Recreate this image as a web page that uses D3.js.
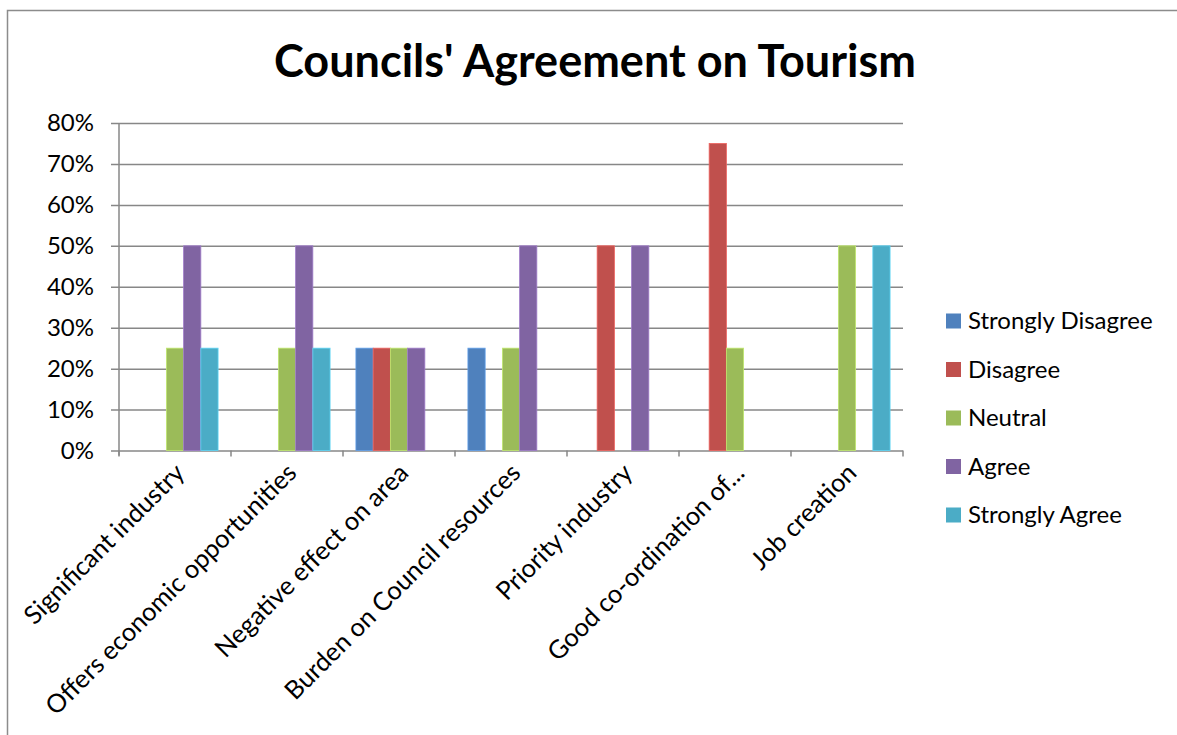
<!DOCTYPE html>
<html>
<head>
<meta charset="utf-8">
<script src="https://cdn.jsdelivr.net/npm/d3@7"></script>
<style>
  html, body { margin: 0; padding: 0; background: #fff; }
  svg { display: block; }
  text { font-family: Lato, "Open Sans", sans-serif; fill: #000; }
</style>
</head>
<body>
<svg id="chart" width="1177" height="735"></svg>
<script>
// Survey statements (x categories)
const categories = [
  "Significant industry",
  "Offers economic opportunities",
  "Negative effect on area",
  "Burden on Council resources",
  "Priority industry",
  "Good co-ordination of...",
  "Job creation"
];

// Response options (series), in legend order
const seriesNames = ["Strongly Disagree", "Disagree", "Neutral", "Agree", "Strongly Agree"];
const seriesColors = ["#4F81BD", "#C0504D", "#9BBB59", "#8064A2", "#4BACC6"];

// Share of councils per response, one array per series (fraction of 1)
const stronglyDisagree = [0, 0, 0.25, 0.25, 0, 0, 0];
const disagree         = [0, 0, 0.25, 0, 0.50, 0.75, 0];
const neutral          = [0.25, 0.25, 0.25, 0.25, 0, 0.25, 0.50];
const agree            = [0.50, 0.50, 0.25, 0.50, 0.50, 0, 0];
const stronglyAgree    = [0.25, 0.25, 0, 0, 0, 0, 0.50];

const yTicks = [0, 0.1, 0.2, 0.3, 0.4, 0.5, 0.6, 0.7, 0.8];

const seriesValues = [stronglyDisagree, disagree, neutral, agree, stronglyAgree];

const svg = d3.select("#chart");

// Outer chart frame
svg.append("rect")
  .attr("x", 7.5).attr("y", 10.5)
  .attr("width", 1200).attr("height", 800)
  .attr("fill", "none").attr("stroke", "#8c8c8c").attr("stroke-width", 1.5);

const plot = { left: 119, right: 903, top: 123, bottom: 450.5 };

// Category bands; bars fill 5 of every 6.5 units (150% gap)
const x0 = d3.scaleBand()
  .domain(categories)
  .range([plot.left, plot.right])
  .paddingInner(1.5 / 6.5)
  .paddingOuter(0.75 / 6.5);
const xCat = d3.scaleBand().domain(categories).range([plot.left, plot.right]);
const x1 = d3.scaleBand().domain(seriesNames).range([0, x0.bandwidth()]);

const y = d3.scaleLinear().domain([0, 0.8]).range([plot.bottom, plot.top]);

// Horizontal gridlines, extending a little past the value axis as ticks
const gy = svg.append("g")
  .attr("transform", `translate(${plot.right},0)`)
  .call(d3.axisLeft(y).tickValues(yTicks).tickSize(plot.right - plot.left + 8).tickFormat(""));
gy.select(".domain").remove();
gy.selectAll(".tick line").attr("stroke", "#878787").attr("stroke-width", 1.5);

// Y tick labels
svg.append("g")
  .selectAll("text")
  .data(yTicks)
  .join("text")
  .attr("x", 94)
  .attr("y", d => y(d))
  .attr("dy", "0.35em")
  .attr("text-anchor", "end")
  .style("font-size", "24px")
  .text(d => d3.format(".0%")(d));

// Vertical value axis line
svg.append("line")
  .attr("x1", plot.left).attr("x2", plot.left)
  .attr("y1", plot.top).attr("y2", plot.bottom + 5)
  .attr("stroke", "#878787").attr("stroke-width", 1.5);

// Category axis ticks at band boundaries
const boundaries = categories.map(c => xCat(c)).concat([plot.right]);
svg.append("g")
  .selectAll("line")
  .data(boundaries)
  .join("line")
  .attr("x1", d => d).attr("x2", d => d)
  .attr("y1", plot.bottom).attr("y2", plot.bottom + 6)
  .attr("stroke", "#878787").attr("stroke-width", 1.5);

// Bars
const groups = svg.append("g")
  .selectAll("g")
  .data(categories)
  .join("g")
  .attr("transform", c => `translate(${x0(c)},0)`);

groups.selectAll("rect")
  .data((c, i) => seriesNames.map((s, k) => ({ s, k, v: seriesValues[k][i] })).filter(d => d.v > 0))
  .join("rect")
  .attr("x", d => x1(d.s))
  .attr("width", x1.bandwidth())
  .attr("y", d => y(d.v))
  .attr("height", d => y(0) - y(d.v))
  .attr("fill", d => seriesColors[d.k])
  .attr("stroke", d => d3.color(seriesColors[d.k]).brighter(0.6))
  .attr("stroke-width", 0.8);

// Category labels, rotated
svg.append("g")
  .selectAll("text")
  .data(categories)
  .join("text")
  .attr("transform", c => `translate(${xCat(c) + xCat.bandwidth() / 2 + 11},${plot.bottom + 24}) rotate(-45)`)
  .attr("text-anchor", "end")
  .style("font-size", "25.5px")
  .text(c => c);

// Title
svg.append("text")
  .attr("x", 595)
  .attr("y", 77)
  .attr("text-anchor", "middle")
  .style("font-size", "45px")
  .style("font-weight", "bold")
  .text("Councils' Agreement on Tourism");

// Legend
const legend = svg.append("g")
  .selectAll("g")
  .data(seriesNames)
  .join("g")
  .attr("transform", (d, i) => `translate(946,${321 + i * 48.5})`);

legend.append("rect")
  .attr("x", 0).attr("y", -7.5)
  .attr("width", 15).attr("height", 15)
  .attr("fill", (d, i) => seriesColors[i]);

legend.append("text")
  .attr("x", 22)
  .attr("y", 0)
  .attr("dy", "0.35em")
  .style("font-size", "24px")
  .text(d => d);
</script>
</body>
</html>
